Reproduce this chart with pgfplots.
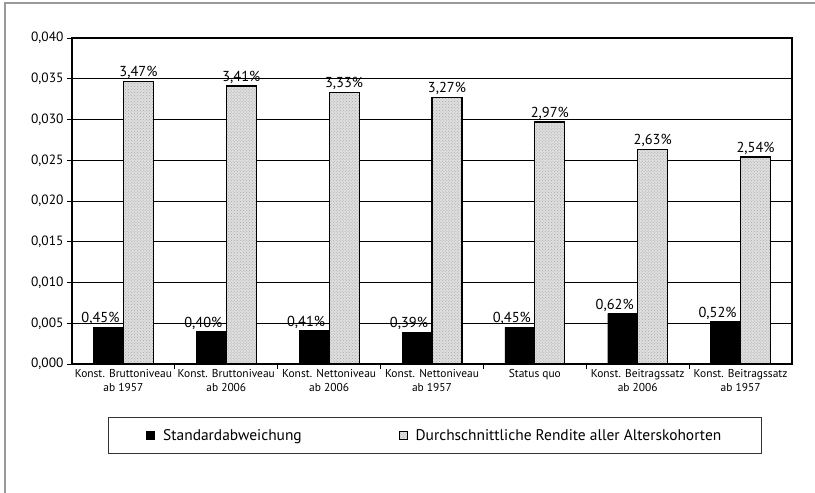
\documentclass[border=0pt]{standalone}
\usepackage{fontspec}
\setmainfont{PT Sans}
\usepackage{pgfplots}
\pgfplotsset{compat=1.18}
\usetikzlibrary{patterns}

\begin{document}
\begin{tikzpicture}
\begin{axis}[
  name=ax,
  scale only axis,
  width=720bp, height=326bp,
  ybar,
  bar width=30bp,
  xmin=-0.5, xmax=6.5,
  ymin=0, ymax=0.04,
  ytick={0,0.005,...,0.0401},
  scaled y ticks=false,
  /pgf/number format/assume math mode=true,
  /pgf/number format/use comma,
  ymajorgrids,
  major grid style={black, line width=0.8bp},
  axis line style={black, line width=1.2bp},
  y tick label style={font=\fontsize{13.5}{15}\selectfont,
    /pgf/number format/.cd, fixed, fixed zerofill, precision=3},
  xtick={0.5,1.5,...,5.5},
  xticklabels={},
  extra x ticks={0,1,2,3,4,5,6},
  extra x tick labels={Konst. Bruttoniveau\\ab 1957, Konst. Bruttoniveau\\ab 2006, Konst. Nettoniveau\\ab 2006, Konst. Nettoniveau\\ab 1957, Status quo, Konst. Beitragssatz\\ab 2006, Konst. Beitragssatz\\ab 1957},
  extra x tick style={major tick length=0pt, grid=none,
    tick label style={align=center, font=\fontsize{11.5}{13.5}\selectfont, yshift=-2bp}},
  tick align=outside,
  major tick length=5bp,
  tick style={black, line width=0.8bp},
  xtick pos=bottom, ytick pos=left,
  point meta={y*100},
  nodes near coords={\pgfmathprintnumber[fixed,fixed zerofill,precision=2]{\pgfplotspointmeta}\%},
  every node near coord/.append style={font=\fontsize{14.5}{16}\selectfont, black, inner sep=2bp},
  legend columns=2,
  legend style={at={(0.504,-0.1626)}, anchor=north, draw=black!80, line width=1bp,
    inner xsep=38bp, inner ysep=10bp, font=\fontsize{15.5}{18}\selectfont,
    /tikz/every even column/.append style={column sep=95bp}},
  legend image code/.code={\draw[#1, line width=0.6bp] (0bp,-4bp) rectangle (8bp,4bp);
    \path (14bp,0bp);},
]
\addplot[fill=black, draw=black, bar shift=-15bp,
  every node near coord/.append style={xshift=-8bp}]
  coordinates {(0,0.0045) (1,0.0040) (2,0.0041) (3,0.0039) (4,0.0045) (5,0.0062) (6,0.0052)};
\addplot[draw=black, line width=1.2bp, fill=gray!25,
  postaction={pattern=crosshatch dots, pattern color=gray!70}, bar shift=15bp]
  coordinates {(0,0.0347) (1,0.0341) (2,0.0333) (3,0.0327) (4,0.0297) (5,0.0263) (6,0.0254)};
\legend{Standardabweichung, Durchschnittliche Rendite aller Alterskohorten}
\end{axis}
\draw[gray!80, line width=1.5bp]
  ([shift={(-67bp,-129bp)}]ax.south west) -- ([shift={(-67bp,361bp)}]ax.south west) -- ([shift={(743bp,361bp)}]ax.south west);
\pgfresetboundingbox
\path ([shift={(-72bp,-129bp)}]ax.south west) rectangle ([shift={(743bp,364bp)}]ax.south west);
\end{tikzpicture}
\end{document}
